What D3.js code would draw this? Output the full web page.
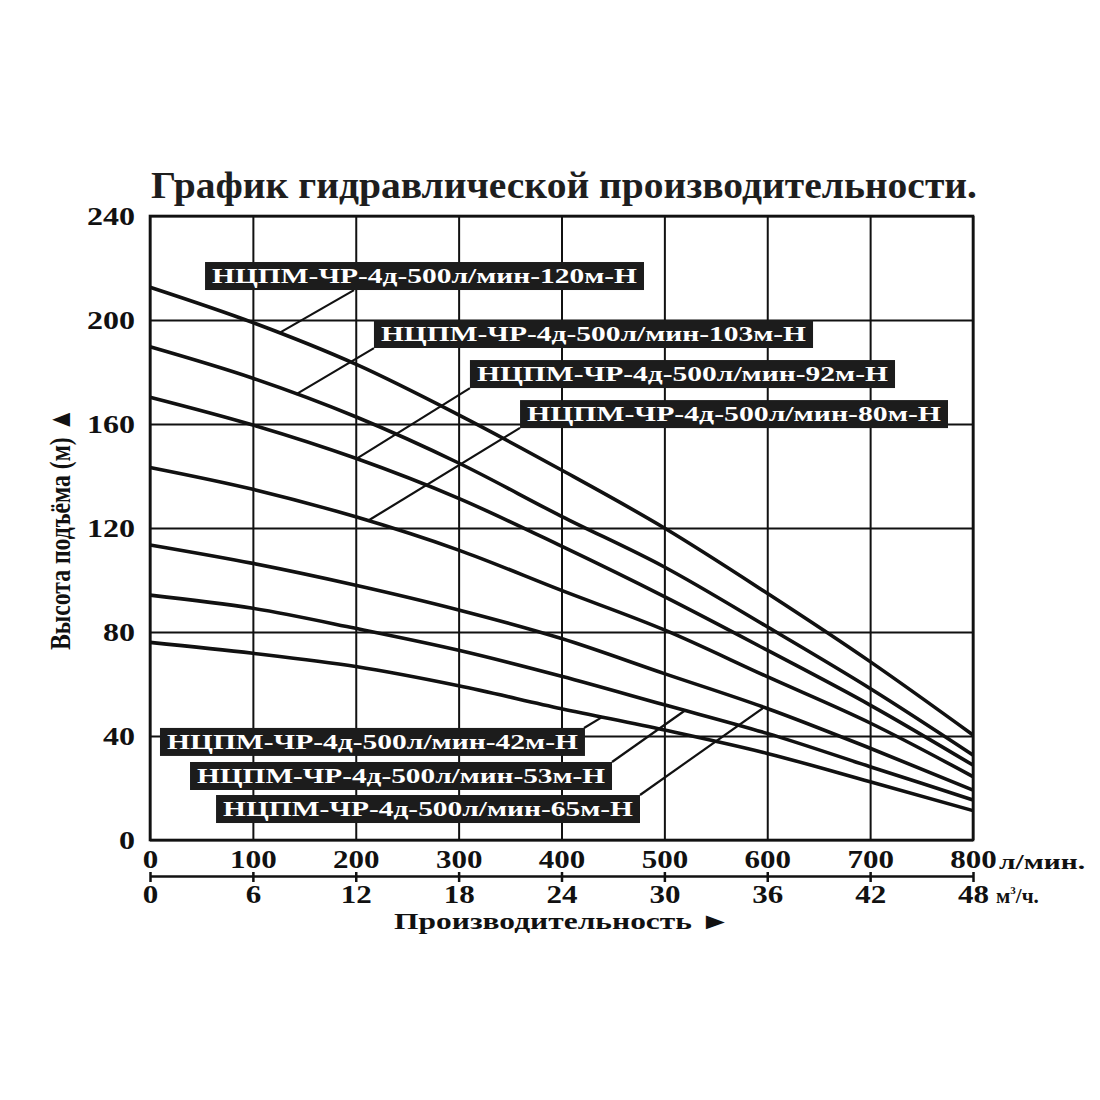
<!DOCTYPE html>
<html>
<head>
<meta charset="utf-8">
<script src="https://cdn.jsdelivr.net/npm/d3@7"></script>
<style>
  body { margin: 0; background: #fff; }
  svg { display: block; }
  text { font-family: "Liberation Serif", "Times New Roman", serif; font-weight: bold; }
</style>
</head>
<body>
<div id="chart"></div>
<script>
// Q-H curves, head (m) read at every 100 l/min
const flow = [0, 100, 200, 300, 400, 500, 600, 700, 800];
const head120 = [212.6, 199.0, 183.0, 163.5, 142.3, 120.0, 94.9, 68.6, 40.4];
const head103 = [189.7, 177.6, 162.8, 145.0, 124.5, 105.0, 82.0, 58.3, 32.7];
const head92  = [170.3, 159.6, 146.8, 131.4, 113.0, 93.6, 73.0, 51.9, 28.8];
const head80  = [143.3, 134.9, 124.3, 111.5, 96.0, 80.8, 62.8, 45.0, 24.4];
const head65  = [113.5, 106.4, 98.0, 88.5, 77.5, 64.0, 50.6, 35.3, 19.2];
const head53  = [94.2, 89.1, 81.4, 73.0, 63.0, 52.0, 41.0, 28.2, 15.4];
const head42  = [76.0, 71.8, 66.7, 59.3, 50.5, 42.3, 33.3, 22.4, 11.3];

const models = ['120м', '103м', '92м', '80м', '65м', '53м', '42м'];
const heads  = [head120, head103, head92, head80, head65, head53, head42];

const xTicks  = [0, 100, 200, 300, 400, 500, 600, 700, 800];
const m3Ticks = [0, 6, 12, 18, 24, 30, 36, 42, 48];
const yTicks  = [0, 40, 80, 120, 160, 200, 240];

const title  = 'График гидравлической производительности.';
const yTitle = 'Высота подъёма (м) ▲';
const xTitle = 'Производительность ►';
const labelPrefix = 'НЦПМ-ЧР-4д-500л/мин-';

// callout placement in chart units: box [x0,x1] flow, top = head; leader from -> curve at flow "to"
const callouts = [
  {i: 0, x0: 53.5,  x1: 480.2, top: 222.3, from: [198.3, 211.5], to: 125.4},
  {i: 1, x0: 217.7, x1: 644.5, top: 200.0, from: [217.7, 189.2], to: 141.9},
  {i: 2, x0: 311.0, x1: 724.2, top: 184.6, from: [311.0, 173.8], to: 200.9},
  {i: 3, x0: 359.7, x1: 775.7, top: 169.2, from: [359.7, 158.5], to: 211.9},
  {i: 6, x0: 9.7,   x1: 422.8, top: 43.1,  from: [421.9, 43.1],  to: 439.4},
  {i: 5, x0: 38.9,  x1: 449.1, top: 30.0,  from: [449.1, 30.0],  to: 520.0},
  {i: 4, x0: 64.2,  x1: 476.3, top: 17.3,  from: [476.3, 17.3],  to: 596.8}
];

const width = 1100, height = 1100;
const margin = {top: 216, left: 150};
const W = 823, H = 624;

const svg = d3.select('#chart').append('svg')
  .attr('width', width)
  .attr('height', height);

const x = d3.scaleLinear().domain([0, 800]).range([0, W]);
const xm3 = d3.scaleLinear().domain([0, 48]).range([0, W]);
const y = d3.scaleLinear().domain([0, 240]).range([H, 0]);

const g = svg.append('g').attr('transform', `translate(${margin.left},${margin.top})`);

// title
svg.append('text')
  .attr('x', 151).attr('y', 198)
  .attr('font-size', 37)
  .attr('fill', '#1e1e1e')
  .attr('textLength', 826).attr('lengthAdjust', 'spacingAndGlyphs')
  .text(title);

// y axis + horizontal grid
const yAxis = g.append('g')
  .call(d3.axisLeft(y).tickValues(yTicks).tickSize(-W).tickPadding(15));
yAxis.select('.domain').remove();
yAxis.selectAll('line').attr('stroke', '#111').attr('stroke-width', 2);
yAxis.selectAll('text')
  .attr('font-size', 25).attr('fill', '#111')
  .attr('font-family', '"Liberation Serif", serif')
  .attr('textLength', d => String(d).length * 16).attr('lengthAdjust', 'spacingAndGlyphs');

// x axis (l/min) + vertical grid
const xAxis = g.append('g')
  .attr('transform', `translate(0,${H})`)
  .call(d3.axisBottom(x).tickValues(xTicks).tickSize(-H));
xAxis.select('.domain').remove();
xAxis.selectAll('line').attr('stroke', '#111').attr('stroke-width', 2);
xAxis.selectAll('text')
  .attr('y', 28).attr('dy', 0)
  .attr('font-size', 25).attr('fill', '#111')
  .attr('font-family', '"Liberation Serif", serif')
  .attr('textLength', d => String(d).length * 15.5).attr('lengthAdjust', 'spacingAndGlyphs');

// second axis (m3/h)
const m3Axis = g.append('g')
  .attr('transform', `translate(0,${H + 36})`)
  .call(d3.axisBottom(xm3).tickValues(m3Ticks).tickSizeOuter(0));
m3Axis.select('.domain').attr('stroke', '#111').attr('stroke-width', 2.5);
m3Axis.selectAll('line').attr('y1', -4).attr('y2', 6).attr('stroke', '#111').attr('stroke-width', 2.5);
m3Axis.selectAll('text')
  .attr('y', 27).attr('dy', 0)
  .attr('font-size', 25).attr('fill', '#111')
  .attr('font-family', '"Liberation Serif", serif')
  .attr('textLength', d => String(d).length * 15.5).attr('lengthAdjust', 'spacingAndGlyphs');

// units
svg.append('text').attr('x', 999).attr('y', 869).attr('font-size', 20).attr('fill', '#111')
  .attr('textLength', 86).attr('lengthAdjust', 'spacingAndGlyphs').text('л/мин.');
const m3Label = svg.append('text').attr('x', 996).attr('y', 903).attr('font-size', 21).attr('fill', '#111');
m3Label.append('tspan').text('м');
m3Label.append('tspan').attr('font-size', 11).attr('dy', -9).text('3');
m3Label.append('tspan').attr('dy', 9).text('/ч.');

// axis titles
svg.append('text')
  .attr('x', 394).attr('y', 929)
  .attr('font-size', 23).attr('fill', '#111')
  .attr('textLength', 337).attr('lengthAdjust', 'spacingAndGlyphs')
  .text(xTitle);

svg.append('text')
  .attr('transform', 'translate(70,650) rotate(-90) scale(1,1.45)')
  .attr('font-size', 21).attr('fill', '#111')
  .attr('textLength', 242).attr('lengthAdjust', 'spacingAndGlyphs')
  .text(yTitle);

// curves
const line = d3.line()
  .x((d, i) => x(flow[i]))
  .y(d => y(d))
  .curve(d3.curveMonotoneX);

g.append('g').selectAll('path').data(heads).enter().append('path')
  .attr('d', d => line(d))
  .attr('fill', 'none')
  .attr('stroke', '#111')
  .attr('stroke-width', 3.6);

// head on a curve at a given flow
function headAt(series, q) {
  return d3.scaleLinear().domain(flow).range(series)(q);
}

// callouts
const boxH = 28;
const cg = g.append('g');
callouts.forEach(c => {
  const series = heads[c.i];
  cg.append('line')
    .attr('x1', x(c.from[0])).attr('y1', y(c.from[1]))
    .attr('x2', x(c.to)).attr('y2', y(headAt(series, c.to)))
    .attr('stroke', '#111').attr('stroke-width', 2.2);
  const bx = x(c.x0), bw = x(c.x1) - x(c.x0), by = y(c.top);
  cg.append('rect')
    .attr('x', bx).attr('y', by)
    .attr('width', bw).attr('height', boxH)
    .attr('fill', '#1c1c1c');
  cg.append('text')
    .attr('x', bx + 7).attr('y', by + 21)
    .attr('font-size', 22).attr('fill', '#fff')
    .attr('textLength', bw - 14).attr('lengthAdjust', 'spacingAndGlyphs')
    .text(labelPrefix + models[c.i] + '-Н');
});

// frame
g.append('rect')
  .attr('width', W).attr('height', H)
  .attr('fill', 'none')
  .attr('stroke', '#111')
  .attr('stroke-width', 2.6);
</script>
</body>
</html>
